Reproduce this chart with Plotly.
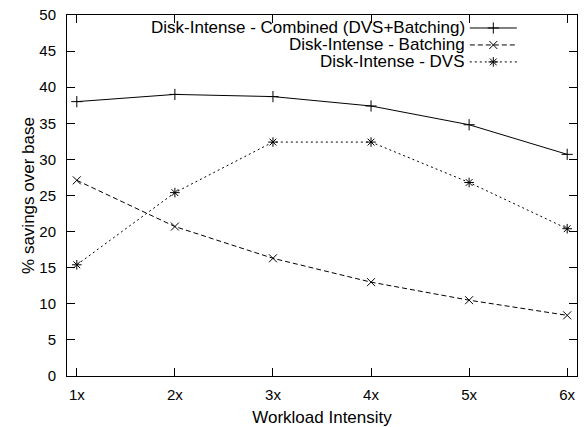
import plotly.graph_objects as go

intensity = [1, 2, 3, 4, 5, 6]
tick_labels = ["1x", "2x", "3x", "4x", "5x", "6x"]
combined = [38.0, 39.0, 38.7, 37.4, 34.8, 30.7]
batching = [27.1, 20.7, 16.3, 13.0, 10.5, 8.4]
dvs = [15.4, 25.4, 32.4, 32.4, 26.8, 20.4]

names = ["Disk-Intense - Combined (DVS+Batching)",
         "Disk-Intense - Batching",
         "Disk-Intense - DVS"]

FONT = "Liberation Sans, Arial, Helvetica, sans-serif"

series = [
    (combined, "solid", "cross-thin-open", "legend"),
    (batching, "5px,3px", "x-thin-open", "legend2"),
    (dvs, "2px,3px", "asterisk-open", "legend3"),
]

fig = go.Figure()
for (vals, dash, sym, leg), nm in zip(series, names):
    fig.add_trace(go.Scatter(
        x=intensity, y=vals, mode="lines+markers", name="",
        line=dict(color="black", width=1, dash=dash),
        marker=dict(symbol=sym, size=8, color="black",
                    line=dict(color="black", width=1)),
        legend=leg,
        showlegend=True,
    ))

# legend rows (paper y) : samples via legends, labels via right-aligned annotations
row_y = [0.964, 0.917, 0.870]
legends = {}
for key, yy in zip(["legend", "legend2", "legend3"], row_y):
    legends[key] = dict(
        x=0.780, y=yy, xanchor="left", yanchor="middle",
        bgcolor="rgba(0,0,0,0)", borderwidth=0,
        itemwidth=47,
        font=dict(size=12, family=FONT, color="black"),
    )

annotations = [
    dict(text=nm, xref="paper", yref="paper", x=0.7825, y=yy,
         xanchor="right", yanchor="middle", showarrow=False,
         height=17, borderpad=0, valign="middle",
         font=dict(size=17, family=FONT, color="black"))
    for nm, yy in zip(names, row_y)
]

fig.update_layout(
    width=586, height=427,
    margin=dict(l=67, r=9, t=15, b=51),
    paper_bgcolor="white", plot_bgcolor="white",
    font=dict(family=FONT, size=16, color="black"),
    showlegend=True,
    annotations=annotations,
    **legends,
)
fig.update_xaxes(
    range=[0.9, 6.1], tickvals=intensity, ticktext=tick_labels,
    ticks="inside", ticklen=8, tickcolor="black", tickwidth=1,
    showline=True, linecolor="black", linewidth=1, mirror="ticks",
    showgrid=False, zeroline=False, ticklabelstandoff=5, automargin=False,
    title=dict(text="Workload Intensity", standoff=10, font=dict(size=17)),
    tickfont=dict(size=15),
)
fig.update_yaxes(
    range=[0, 50], dtick=5,
    ticks="inside", ticklen=8, tickcolor="black", tickwidth=1,
    showline=True, linecolor="black", linewidth=1, mirror="ticks",
    showgrid=False, zeroline=False, ticklabelstandoff=7, automargin=False,
    title=dict(text="% savings over base", standoff=0, font=dict(size=17)),
    tickfont=dict(size=15),
)

fig.write_html("out.html", config={"displayModeBar": False},
               post_script="document.body.style.margin='0';")
